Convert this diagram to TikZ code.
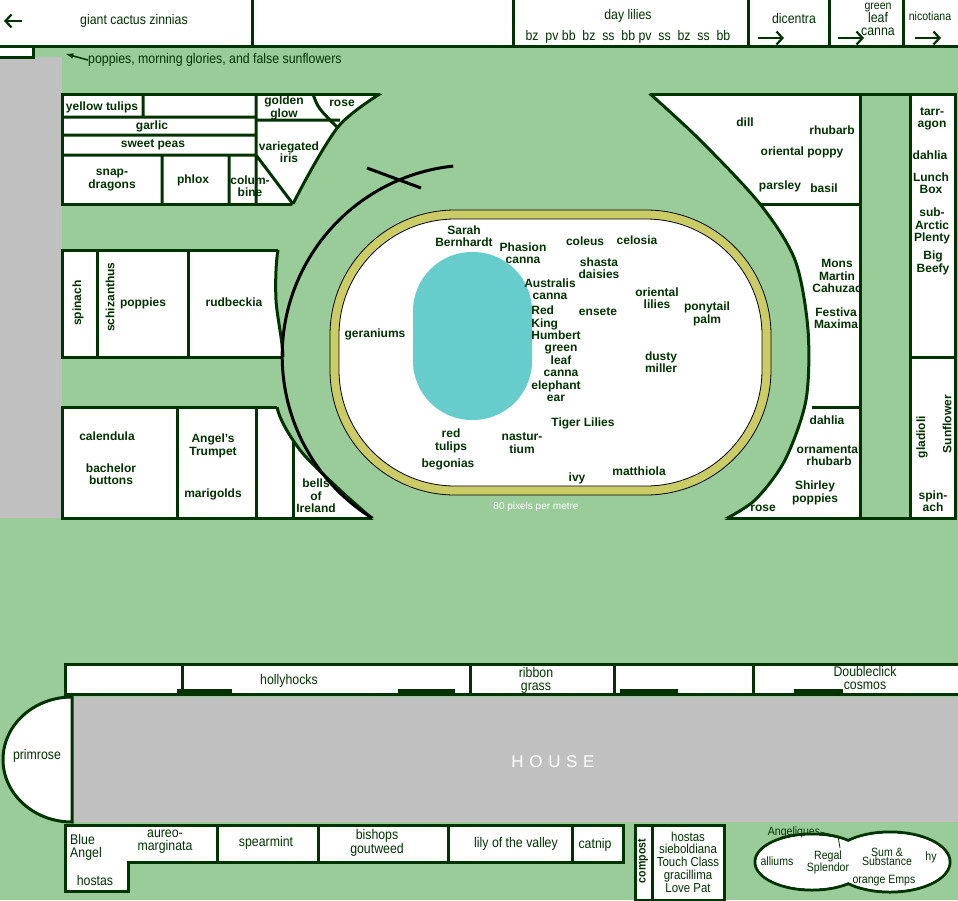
\documentclass[tikz,border=0pt]{standalone}
\usepackage{fontspec}
\usetikzlibrary{arrows.meta}
\setmainfont{Liberation Sans}
\newfontfamily\narrowfont[FakeStretch=0.88]{Liberation Sans}
\definecolor{lawn}{HTML}{99CC99}
\definecolor{hedge}{HTML}{003300}
\definecolor{paving}{HTML}{C0C0C0}
\definecolor{edging}{HTML}{CCCC66}
\definecolor{pond}{HTML}{66CCCC}
\tikzset{bed/.style={draw=hedge, fill=white, line width=3pt},
         plant/.style={text=hedge, font=\fontsize{12}{12.5}\selectfont\bfseries, align=center, inner sep=0pt},
         tag/.style={text=hedge, font=\narrowfont\fontsize{14}{13}\selectfont, align=center, inner sep=0pt},
         edge/.style={draw=hedge, line width=3pt},
         pointer/.style={draw=hedge, line width=2.2pt, -{Straight Barb[length=6pt,width=13pt]}}}
\begin{document}
\begin{tikzpicture}[x=1pt,y=-1pt]
        \useasboundingbox (0,0) rectangle (958,900);
        \fill[lawn] (0,0) rectangle (958,900);
        \fill[paving] (0,57) rectangle (62,518);

        % top strip
        \draw[bed] (-2,-2) rectangle (960,46);
        \foreach \xx in {252,513,748,829,903} \draw[edge] (\xx,0)--(\xx,46);
        \draw[bed] (-2,46) rectangle (33,57);
        \coordinate (la) at (22,21); \coordinate (lb) at (4,21);
        \draw[pointer] (la) -- (lb);
        \node[tag] (gcz) at (134,21) {giant cactus zinnias};
        \node[tag] (dl) at (628,16) {day lilies};
        \node[tag] (dlc) at (628,37) {bz\ \ pv\ bb\ \ bz\ \ ss\ \ bb\ pv\ \ ss\ \ bz\ \ ss\ \ bb};
        \node[tag] (dic) at (794,18) {dicentra};
        \node[tag] (gl) at (878,19) {\fontsize{12}{9}\selectfont green\\leaf\\canna};
        \node[tag, font=\narrowfont\fontsize{12}{12}\selectfont] (nic) at (930,16) {nicotiana};
        \foreach \xx/\nm in {758/ra, 838/rb, 915/rc} {
          \coordinate (\nm) at (\xx,38);
          \draw[pointer] (\nm) -- ++(26,0);
        }
        \node[tag, anchor=west] (pmg) at (88,60) {poppies, morning glories, and false sunflowers};
        \coordinate (pmgtip) at (66,54);
        \draw[hedge, line width=1.5pt, -latex] (pmg.west) -- (pmgtip);

        % left beds
        \draw[bed] (62,94) rectangle (400,204);
        \draw[edge] (143,94)--(143,117) (62,117)--(256,117) (62,135)--(256,135) (62,155)--(256,155)
          (256,94)--(256,204) (162,155)--(162,204) (229,155)--(229,204) (256,155)--(293,204)
          (256,120)--(340,120);
        \draw[edge] (313,94) .. controls (318,108) .. (338,128);
        \draw[bed] (62,250) rectangle (300,357);
        \draw[edge] (97,250)--(97,357) (188,250)--(188,357);
        \draw[bed] (62,407) rectangle (400,518);
        \draw[edge] (177,407)--(177,518) (256,407)--(256,518) (293,440)--(293,518);

        % right beds
        \draw[bed] (640,94) rectangle (955,518);
        \draw[bed, fill=lawn] (860,94) rectangle (910,518);
        \draw[edge] (750,204)--(860,204) (812,407)--(860,407) (910,357)--(955,357);

        % lawn circle
        \fill[lawn] plot[smooth] coordinates {(383,92) (338,127) (293,204) (278,250) (276,300) (283,357)
          (277,407) (300,450) (340,490) (375,521)} -- plot[smooth] coordinates {(722,521) (755,500)
          (785,460) (806,400) (808,330) (795,260) (760,204) (700,140) (648,92)} -- cycle;
        \begin{scope}
          \clip (0,94) rectangle (400,204) (0,250) rectangle (330,357) (0,407) rectangle (400,518)
            (600,94) rectangle (958,518);
          \draw[edge] plot[smooth] coordinates {(383,92) (338,127) (293,204) (278,250) (276,300) (283,357)
            (277,407) (300,450) (340,490) (375,521)};
          \draw[edge] plot[smooth] coordinates {(722,521) (755,500) (785,460) (806,400) (808,330)
            (795,260) (760,204) (700,140) (648,92)};
        \end{scope}
        \fill[edging, draw=black, thick] (330,210) [rounded corners=125pt] rectangle (771,495);
        \fill[white, draw=black, thick] (339,219) [rounded corners=116pt] rectangle (762,486);
        \fill[pond] (413,252) [rounded corners=59pt] rectangle (532,420);
        \draw[black, line width=3pt] (372,518) arc[start angle=122, end angle=264, radius=191];
        \draw[black, line width=3pt] (367,168) -- (421,188);

        % left labels
        \node[plant] (ytu) at (102,107) {yellow tulips};
        \node[plant] (gar) at (152,126) {garlic};
        \node[plant] (swp) at (153,145) {sweet peas};
        \node[plant] (snd) at (112,180) {\fontsize{12}{10}\selectfont snap-\\dragons};
        \node[plant] (phx) at (193,180) {phlox};
        \node[plant] (col) at (250,186) {colum-\\bine};
        \node[plant] (ggl) at (284,108) {golden\\glow};
        \node[plant] (rsa) at (342,103) {rose};
        \node[plant] (vir) at (289,152) {variegated\\iris};
        \node[plant, rotate=90] (spi) at (78,303) {spinach};
        \node[plant, rotate=90] (sch) at (110,297) {schizanthus};
        \node[plant] (pop) at (143,303) {poppies};
        \node[plant] (rud) at (234,302) {rudbeckia};
        \node[plant] (cal) at (107,436) {calendula};
        \node[plant] (bac) at (111,474) {bachelor\\buttons};
        \node[plant] (ang) at (213,446) {Angel's\\Trumpet};
        \node[plant] (mar) at (213,494) {marigolds};
        \node[plant] (boi) at (316,496) {\fontsize{12}{9}\selectfont bells\\of\\Ireland};

        % right labels
        \node[plant] (dil) at (745,122) {dill};
        \node[plant] (rhu) at (832,130) {rhubarb};
        \node[plant] (orp) at (802,152) {oriental poppy};
        \node[plant] (par) at (780,186) {parsley};
        \node[plant] (bas) at (824,188) {basil};
        \node[plant] (mmc) at (837,276) {Mons\\Martin\\Cahuzac};
        \node[plant] (fma) at (836,318) {Festiva\\Maxima};
        \node[plant] (dha) at (827,420) {dahlia};
        \node[plant] (orh) at (829,455) {ornamental\\rhubarb};
        \node[plant] (shp) at (815,493) {\fontsize{12}{10}\selectfont Shirley\\poppies};
        \node[plant] (rsb) at (763,508) {rose};
        \node[plant] (tar) at (932,119) {tarr-\\agon};
        \node[plant] (dhb) at (930,155) {dahlia};
        \node[plant] (lbx) at (931,183) {Lunch\\Box};
        \node[plant] (sap) at (932,226) {sub-\\Arctic\\Plenty};
        \node[plant] (bbf) at (933,263) {Big\\Beefy};
        \node[plant, rotate=90] (gla) at (922,437) {gladioli};
        \node[plant, rotate=90] (sun) at (947,424) {Sunflower};
        \node[plant] (sak) at (933,501) {\fontsize{12}{10}\selectfont spin-\\ach};

        % circle labels
        \node[plant] (sbe) at (464,236) {Sarah\\Bernhardt};
        \node[plant] (pca) at (523,253) {\fontsize{12}{9.5}\selectfont Phasion\\canna};
        \node[plant] (cls) at (585,241) {coleus};
        \node[plant] (cel) at (637,240) {celosia};
        \node[plant] (sha) at (599,268) {\fontsize{12}{10}\selectfont shasta\\daisies};
        \node[plant] (aca) at (550,289) {\fontsize{12}{9.5}\selectfont Australis\\canna};
        \node[plant] (ens) at (598,312) {ensete};
        \node[plant] (orl) at (657,298) {oriental\\lilies};
        \node[plant] (ppa) at (707,314) {ponytail\\palm};
        \node[plant, align=left] (rkh) at (556,323) {\fontsize{12}{8.5}\selectfont Red\\King\\Humbert};
        \node[plant] (ger) at (375,334) {geraniums};
        \node[plant] (glc) at (561,361) {\fontsize{12}{8.5}\selectfont green\\leaf\\canna};
        \node[plant] (dmi) at (661,362) {dusty\\miller};
        \node[plant] (eea) at (556,391) {elephant\\ear};
        \node[plant] (tli) at (583,423) {Tiger Lilies};
        \node[plant] (rtu) at (451,441) {red\\tulips};
        \node[plant] (nas) at (522,443) {nastur-\\tium};
        \node[plant] (beg) at (448,464) {begonias};
        \node[plant] (ivy) at (577,478) {ivy};
        \node[plant] (mat) at (639,471) {matthiola};
        \node[inner sep=0pt, text=white, font=\fontsize{10}{10}\selectfont] (ppm) at (536,507) {80 pixels per metre};

        % house and its beds
        \draw[bed] (65,664) rectangle (960,694);
        \draw[edge] (182,664)--(182,694) (470,664)--(470,694) (614,664)--(614,694) (753,664)--(753,694);
        \foreach \xa/\xb in {177/232, 398/455, 620/678, 794/843}
          \fill[hedge] (\xa,689) rectangle (\xb,695);
        \fill[paving] (72,697) rectangle (958,822);
        \draw[bed] (72,697) arc[start angle=-90, end angle=-270, x radius=69, y radius=62.5] -- cycle;
        \draw[bed] (65,825) -- (623,825) -- (623,862) -- (128,862) -- (128,891) -- (65,891) -- cycle;
        \draw[edge] (217,825)--(217,862) (318,825)--(318,862) (448,825)--(448,862) (572,825)--(572,862);
        \draw[bed] (635,825) rectangle (724,900);
        \draw[edge] (652,825)--(652,900);
        \draw[bed] (812,862) ellipse[x radius=57, y radius=28] (890,862) ellipse[x radius=60, y radius=30];
        \fill[white] (812,862) ellipse[x radius=55.5, y radius=26.5] (890,862) ellipse[x radius=58.5, y radius=28.5];
        \node[inner sep=0pt, text=white, font=\fontsize{17}{17}\selectfont] (hse) at (553,762) {H\,\,O\,\,U\,\,S\,\,E};
        \node[tag] (hol) at (289,681) {hollyhocks};
        \node[tag] (rgr) at (536,680) {ribbon\\grass};
        \node[tag] (dcc) at (865,678) {Doubleclick\\cosmos};
        \node[tag] (pri) at (37,756) {primrose};
        \node[tag, align=left] (bla) at (86,847) {Blue\\Angel};
        \node[tag] (aur) at (165,842) {aureo-\\marginata};
        \node[tag] (hoa) at (95,880) {hostas};
        \node[tag] (spm) at (266,843) {spearmint};
        \node[tag] (bgw) at (377,843) {bishops\\goutweed};
        \node[tag] (lov) at (516,844) {lily of the valley};
        \node[tag] (cat) at (595,845) {catnip};
        \node[tag, rotate=90, font=\narrowfont\fontsize{12}{12}\selectfont\bfseries] (cmp) at (643,861) {compost};
        \node[tag, font=\narrowfont\fontsize{13}{12.7}\selectfont] (hsb) at (688,862) {hostas\\sieboldiana\\Touch Class\\gracillima\\Love Pat};
        \node[tag, font=\narrowfont\fontsize{12}{12}\selectfont] (agl) at (794,832) {Angeliques};
        \coordinate (aglend) at (840,848);
        \draw[hedge, thick] (agl.east) -- (838,836) -- (aglend);
        \node[tag, font=\narrowfont\fontsize{12}{12}\selectfont] (all) at (777,861) {alliums};
        \node[tag, font=\narrowfont\fontsize{12}{9.5}\selectfont] (rsp) at (828,862) {Regal\\Splendor};
        \node[tag, font=\narrowfont\fontsize{12}{9.5}\selectfont] (sas) at (887,857) {Sum \&\\Substance};
        \node[tag, font=\narrowfont\fontsize{12}{12}\selectfont] (hyx) at (931,857) {hy};
        \node[tag, font=\narrowfont\fontsize{12}{12}\selectfont] (oem) at (884,881) {orange Emps};
    \end{tikzpicture}
\end{document}
